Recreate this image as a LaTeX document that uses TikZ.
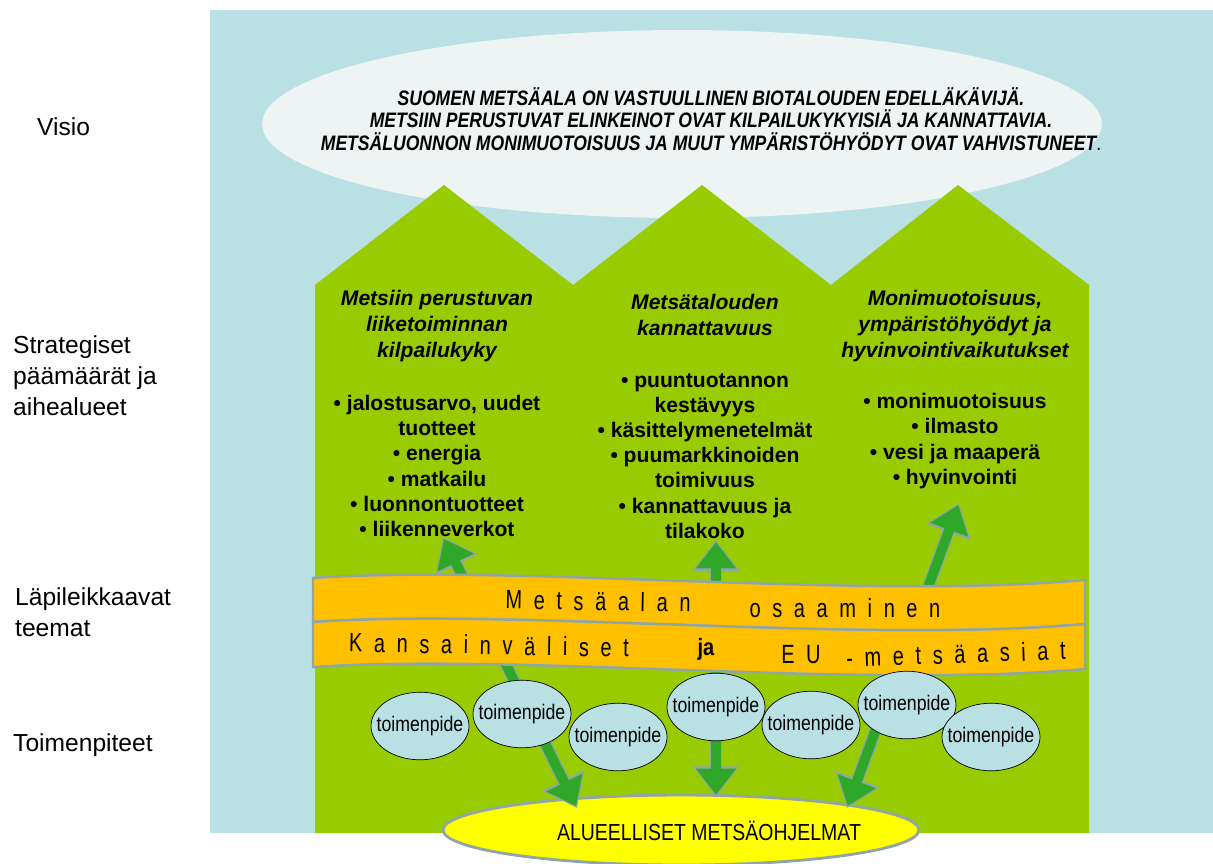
\documentclass[tikz,border=0pt]{standalone}
\usepackage{fontspec}
\setmainfont{Liberation Sans}
\newfontfamily\narrowfont[FakeStretch=0.84]{Liberation Sans}
\newfontfamily\bandfont[FakeStretch=0.76,LetterSpace=44]{Liberation Sans}
\usetikzlibrary{shapes.geometric,arrows.meta,positioning}
\definecolor{bgblue}{HTML}{B9E0E3}
\definecolor{visiofill}{HTML}{EEF3F3}
\definecolor{housegreen}{HTML}{99CC00}
\definecolor{bandorange}{HTML}{FFC000}
\definecolor{bandgray}{HTML}{8FA5A8}
\definecolor{arrowgreen}{HTML}{2FA82A}
\definecolor{ohjelmayellow}{HTML}{FFFF00}
\begin{document}
\begin{tikzpicture}[x=0.02cm, y=-0.02cm,
    sidelabel/.style={anchor=west, align=left, font=\fontsize{14}{17.6}\selectfont},
    goal/.style={align=center, font=\fontsize{12}{14.8}\selectfont\bfseries\itshape},
    topics/.style={align=center, font=\fontsize{12}{14.3}\selectfont\bfseries},
    measure/.style={ellipse, draw=black, thin, fill=bgblue, minimum width=1.96cm, minimum height=1.34cm, inner xsep=-5pt, inner ysep=8pt, font=\narrowfont\fontsize{12}{13}\selectfont},
    bandtext/.style={font=\bandfont\fontsize{15}{17}\selectfont},
    band/.style={fill=bandorange, draw=bandgray, line width=1.4pt},
    fatarrow/.style={draw=arrowgreen, line width=5.6pt, {Triangle[length=15pt,width=22pt]}-{Triangle[length=15pt,width=22pt]}, shorten <=1.2pt, shorten >=1.2pt,
        preaction={draw=bandgray, line width=7.2pt, {Triangle[length=17.5pt,width=25.5pt]}-{Triangle[length=17.5pt,width=25.5pt]}, shorten <=0pt, shorten >=0pt}}
]
    \useasboundingbox (0,0) rectangle (1213,863);

    % Background and vision
    \fill[bgblue] (210,10) rectangle (1213,833);
    \node[ellipse, fill=visiofill, minimum width=16.8cm, minimum height=3.76cm] (visio) at (682,124) {};

    % Houses
    \fill[housegreen] (315,833) -- (315,285) -- (444,185) -- (573,285) -- (702,185) -- (831,285)
        -- (958,185) -- (1089,285) -- (1089,833) -- cycle;

    % Vision text
    \node[align=center, font=\narrowfont\bfseries\itshape\fontsize{11.9}{12.9}\selectfont] (visioteksti) at (711,119)
        {SUOMEN METSÄALA ON VASTUULLINEN BIOTALOUDEN EDELLÄKÄVIJÄ.\\
         METSIIN PERUSTUVAT ELINKEINOT OVAT KILPAILUKYKYISIÄ JA KANNATTAVIA.\\
         METSÄLUONNON MONIMUOTOISUUS JA MUUT YMPÄRISTÖHYÖDYT OVAT VAHVISTUNEET{\upshape\mdseries .}};

    % Strategic goals
    \node[goal] (paamaara1) at (437,326) {Metsiin perustuvan\\liiketoiminnan\\kilpailukyky};
    \node[topics] (aiheet1) at (437,466) {• jalostusarvo, uudet\\tuotteet\\• energia\\• matkailu\\• luonnontuotteet\\• liikenneverkot};
    \node[goal] (paamaara2) at (705,315) {Metsätalouden\\kannattavuus};
    \node[topics] (aiheet2) at (705,456) {• puuntuotannon\\kestävyys\\• käsittelymenetelmät\\• puumarkkinoiden\\toimivuus\\• kannattavuus ja\\tilakoko};
    \node[goal] (paamaara3) at (955,326) {Monimuotoisuus,\\ympäristöhyödyt ja\\hyvinvointivaikutukset};
    \node[topics] (aiheet3) at (955,441) {• monimuotoisuus\\• ilmasto\\• vesi ja maaperä\\• hyvinvointi};

    % Regional programmes
    \node[ellipse, fill=ohjelmayellow, draw=bandgray, line width=1.6pt, minimum width=9.52cm, minimum height=1.4cm] (ohjelmat) at (681,830) {};
    \node[font=\narrowfont\fontsize{13.2}{15}\selectfont] (ohjelmateksti) at (709,831) {ALUEELLISET METSÄOHJELMAT};

    % Arrows
    \coordinate (nuoli1ylos) at (443,537);
    \coordinate (nuoli1alas) at (577,808);
    \coordinate (nuoli2ylos) at (716,540);
    \coordinate (nuoli2alas) at (716,797);
    \coordinate (nuoli3ylos) at (959,503);
    \coordinate (nuoli3alas) at (847,808);
    \draw[fatarrow] (nuoli1ylos) -- (nuoli1alas);
    \draw[fatarrow] (nuoli2ylos) -- (nuoli2alas);
    \draw[fatarrow] (nuoli3ylos) -- (nuoli3alas);

    % Cross-cutting themes
    \draw[band] (313,578) .. controls (520,564) and (860,600) .. (1085,580) -- (1085,624)
        .. controls (860,644) and (520,608) .. (313,622) -- cycle;
    \draw[band] (313,622) .. controls (520,608) and (860,644) .. (1085,624) -- (1085,669)
        .. controls (860,689) and (520,653) .. (313,667) -- cycle;
    \node[bandtext, rotate=-1] (osaaminen1) at (598,601) {Metsäalan};
    \node[bandtext] (osaaminen2) at (845,608) {osaaminen};
    \node[bandtext, rotate=-1] (kv) at (489,645) {Kansainväliset};
    \node[font=\narrowfont\bfseries\fontsize{13.5}{15}\selectfont] (ja) at (706,649) {ja};
    \node[bandtext] (eu) at (801,655) {EU};
    \node[bandtext, rotate=2] (eumetsa) at (956,654) {-metsäasiat};

    % Measures
    \node[measure] (toimenpide1) at (420,726) {toimenpide};
    \node[measure] (toimenpide2) at (522,714) {toimenpide};
    \node[measure] (toimenpide3) at (618,737) {toimenpide};
    \node[measure] (toimenpide4) at (716,707) {toimenpide};
    \node[measure] (toimenpide5) at (811,725) {toimenpide};
    \node[measure] (toimenpide6) at (907,705) {toimenpide};
    \node[measure] (toimenpide7) at (991,737) {toimenpide};

    % Side labels
    \node[sidelabel] (visiolabel) at (31,127) {Visio};
    \node[sidelabel] (strategia) at (7,376) {Strategiset\\päämäärät ja\\aihealueet};
    \node[sidelabel] (teemat) at (9,612) {Läpileikkaavat\\teemat};
    \node[sidelabel] (toimenpiteet) at (7,745) {Toimenpiteet};
\end{tikzpicture}
\end{document}
